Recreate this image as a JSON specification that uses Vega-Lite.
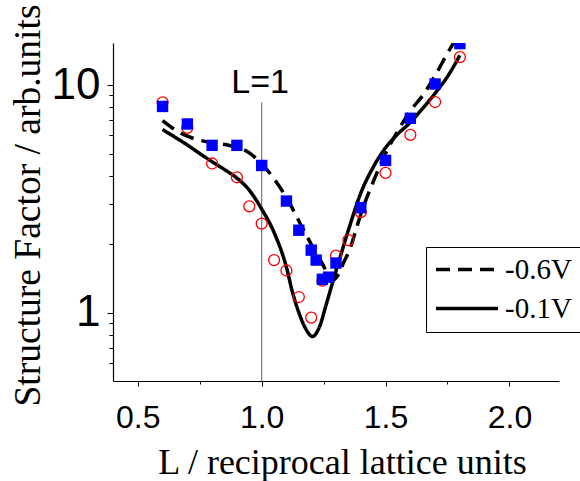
{
  "$schema": "https://vega.github.io/schema/vega-lite/v6.json",
  "width": 446,
  "height": 338,
  "autosize": {"type": "none"},
  "padding": {"left": 113, "top": 43, "right": 21, "bottom": 100},
  "background": "white",
  "config": {
    "view": {"stroke": null},
    "axis": {
      "grid": false,
      "domainColor": "black",
      "domainWidth": 1.2,
      "tickColor": "black",
      "tickWidth": 1,
      "labelColor": "black",
      "titleColor": "black",
      "labelFlush": false,
      "labelOverlap": false,
      "labelFont": "Liberation Sans",
      "titleFont": "Liberation Serif",
      "titleFontWeight": "normal"
    }
  },
  "datasets": {
    "curves": [
      {"series": "-0.6V", "L": 0.60, "SF": 6.97},
      {"series": "-0.6V", "L": 0.66, "SF": 6.26},
      {"series": "-0.6V", "L": 0.72, "SF": 5.85},
      {"series": "-0.6V", "L": 0.80, "SF": 5.57},
      {"series": "-0.6V", "L": 0.87, "SF": 5.42},
      {"series": "-0.6V", "L": 0.94, "SF": 5.11},
      {"series": "-0.6V", "L": 0.99, "SF": 4.62},
      {"series": "-0.6V", "L": 1.05, "SF": 3.87},
      {"series": "-0.6V", "L": 1.10, "SF": 3.2},
      {"series": "-0.6V", "L": 1.16, "SF": 2.41},
      {"series": "-0.6V", "L": 1.22, "SF": 1.82},
      {"series": "-0.6V", "L": 1.25, "SF": 1.6},
      {"series": "-0.6V", "L": 1.27, "SF": 1.44},
      {"series": "-0.6V", "L": 1.29, "SF": 1.39},
      {"series": "-0.6V", "L": 1.31, "SF": 1.47},
      {"series": "-0.6V", "L": 1.33, "SF": 1.65},
      {"series": "-0.6V", "L": 1.36, "SF": 1.95},
      {"series": "-0.6V", "L": 1.38, "SF": 2.3},
      {"series": "-0.6V", "L": 1.40, "SF": 2.7},
      {"series": "-0.6V", "L": 1.45, "SF": 3.75},
      {"series": "-0.6V", "L": 1.50, "SF": 5.0},
      {"series": "-0.6V", "L": 1.55, "SF": 6.3},
      {"series": "-0.6V", "L": 1.60, "SF": 7.7},
      {"series": "-0.6V", "L": 1.65, "SF": 9.0},
      {"series": "-0.6V", "L": 1.70, "SF": 11.0},
      {"series": "-0.6V", "L": 1.75, "SF": 13.8},
      {"series": "-0.6V", "L": 1.80, "SF": 17.0},
      {"series": "-0.1V", "L": 0.60, "SF": 6.37},
      {"series": "-0.1V", "L": 0.65, "SF": 5.9},
      {"series": "-0.1V", "L": 0.70, "SF": 5.45},
      {"series": "-0.1V", "L": 0.75, "SF": 5.0},
      {"series": "-0.1V", "L": 0.80, "SF": 4.6},
      {"series": "-0.1V", "L": 0.85, "SF": 4.25},
      {"series": "-0.1V", "L": 0.90, "SF": 3.9},
      {"series": "-0.1V", "L": 0.95, "SF": 3.45},
      {"series": "-0.1V", "L": 1.00, "SF": 2.85},
      {"series": "-0.1V", "L": 1.05, "SF": 2.25},
      {"series": "-0.1V", "L": 1.10, "SF": 1.58},
      {"series": "-0.1V", "L": 1.125, "SF": 1.22},
      {"series": "-0.1V", "L": 1.15, "SF": 1.0},
      {"series": "-0.1V", "L": 1.175, "SF": 0.86},
      {"series": "-0.1V", "L": 1.205, "SF": 0.785},
      {"series": "-0.1V", "L": 1.235, "SF": 0.875},
      {"series": "-0.1V", "L": 1.26, "SF": 1.08},
      {"series": "-0.1V", "L": 1.29, "SF": 1.4},
      {"series": "-0.1V", "L": 1.32, "SF": 1.8},
      {"series": "-0.1V", "L": 1.35, "SF": 2.3},
      {"series": "-0.1V", "L": 1.40, "SF": 3.35},
      {"series": "-0.1V", "L": 1.45, "SF": 4.35},
      {"series": "-0.1V", "L": 1.50, "SF": 5.3},
      {"series": "-0.1V", "L": 1.55, "SF": 6.1},
      {"series": "-0.1V", "L": 1.60, "SF": 6.85},
      {"series": "-0.1V", "L": 1.65, "SF": 7.9},
      {"series": "-0.1V", "L": 1.70, "SF": 9.2},
      {"series": "-0.1V", "L": 1.75, "SF": 10.9},
      {"series": "-0.1V", "L": 1.80, "SF": 13.5}
    ],
    "squares": [
      {"series": "-0.6V", "L": 0.6, "SF": 8.05},
      {"series": "-0.6V", "L": 0.7, "SF": 6.74},
      {"series": "-0.6V", "L": 0.8, "SF": 5.43},
      {"series": "-0.6V", "L": 0.9, "SF": 5.43},
      {"series": "-0.6V", "L": 1.0, "SF": 4.43},
      {"series": "-0.6V", "L": 1.1, "SF": 3.09},
      {"series": "-0.6V", "L": 1.15, "SF": 2.3},
      {"series": "-0.6V", "L": 1.2, "SF": 1.88},
      {"series": "-0.6V", "L": 1.22, "SF": 1.7},
      {"series": "-0.6V", "L": 1.245, "SF": 1.4},
      {"series": "-0.6V", "L": 1.27, "SF": 1.43},
      {"series": "-0.6V", "L": 1.3, "SF": 1.65},
      {"series": "-0.6V", "L": 1.4, "SF": 2.89},
      {"series": "-0.6V", "L": 1.5, "SF": 4.66},
      {"series": "-0.6V", "L": 1.6, "SF": 7.14},
      {"series": "-0.6V", "L": 1.7, "SF": 10.1},
      {"series": "-0.6V", "L": 1.8, "SF": 15.2}
    ],
    "circles": [
      {"series": "-0.1V", "L": 0.6, "SF": 8.39},
      {"series": "-0.1V", "L": 0.7, "SF": 6.48},
      {"series": "-0.1V", "L": 0.8, "SF": 4.52},
      {"series": "-0.1V", "L": 0.9, "SF": 3.93},
      {"series": "-0.1V", "L": 0.95, "SF": 2.93},
      {"series": "-0.1V", "L": 1.0, "SF": 2.46},
      {"series": "-0.1V", "L": 1.05, "SF": 1.7},
      {"series": "-0.1V", "L": 1.1, "SF": 1.53},
      {"series": "-0.1V", "L": 1.15, "SF": 1.17},
      {"series": "-0.1V", "L": 1.2, "SF": 0.95},
      {"series": "-0.1V", "L": 1.245, "SF": 1.38},
      {"series": "-0.1V", "L": 1.3, "SF": 1.78},
      {"series": "-0.1V", "L": 1.35, "SF": 2.08},
      {"series": "-0.1V", "L": 1.4, "SF": 2.76},
      {"series": "-0.1V", "L": 1.5, "SF": 4.11},
      {"series": "-0.1V", "L": 1.6, "SF": 6.04},
      {"series": "-0.1V", "L": 1.7, "SF": 8.42},
      {"series": "-0.1V", "L": 1.8, "SF": 13.27}
    ],
    "marker": [{"L": 1.0, "SF": 0.5, "SF2": 8.4, "label": "L=1", "labelSF": 9.25}]
  },
  "encoding": {
    "x": {
      "field": "L",
      "type": "quantitative",
      "scale": {"domain": [0.4, 2.2], "nice": false, "zero": false},
      "axis": {
        "values": [0.5, 0.75, 1, 1.25, 1.5, 1.75, 2],
        "labelExpr": "datum.value == 0.5 ? '0.5' : datum.value == 1 ? '1.0' : datum.value == 1.5 ? '1.5' : datum.value == 2 ? '2.0' : ''",
        "labelFontSize": 32,
        "labelBaseline": "alphabetic",
        "labelPadding": 41,
        "tickSize": {"condition": {"test": "datum.value == 0.5 || datum.value == 1 || datum.value == 1.5 || datum.value == 2", "value": 5}, "value": 3},
        "title": "L / reciprocal lattice units",
        "titleFontSize": 36,
        "titleBaseline": "alphabetic",
        "titleX": 229,
        "titleY": 92
      }
    },
    "y": {
      "field": "SF",
      "type": "quantitative",
      "scale": {"type": "log", "domain": [0.5, 15.3], "nice": false},
      "axis": {
        "values": [0.6, 0.7, 0.8, 0.9, 1, 2, 3, 4, 5, 6, 7, 8, 9, 10],
        "labelExpr": "datum.value == 1 ? '1' : datum.value == 10 ? '10' : ''",
        "labelFontSize": 44,
        "labelPadding": 7,
        "tickSize": {"condition": {"test": "datum.value == 1 || datum.value == 10", "value": 6}, "value": 4},
        "title": "Structure Factor / arb.units",
        "titleFontSize": 37.5,
        "titleBaseline": "alphabetic",
        "titleAngle": 270,
        "titleX": -74,
        "titleY": 162
      }
    }
  },
  "layer": [
    {
      "data": {"name": "marker"},
      "mark": {"type": "rule", "color": "#7a7a7a", "strokeWidth": 1.2},
      "encoding": {"y2": {"field": "SF2"}}
    },
    {
      "data": {"name": "curves"},
      "mark": {"type": "line", "interpolate": "monotone", "color": "black", "strokeWidth": 3.5, "clip": true},
      "encoding": {
        "detail": {"field": "series"},
        "strokeDash": {
          "field": "series",
          "type": "nominal",
          "scale": {"domain": ["-0.6V", "-0.1V"], "range": [[14, 8], [1, 0]]},
          "legend": {
            "orient": "none",
            "legendX": 313,
            "legendY": 204,
            "title": null,
            "symbolType": "stroke",
            "symbolSize": 3844,
            "symbolStrokeWidth": 3.5,
            "symbolStrokeColor": "black",
            "clipHeight": 29,
            "labelFont": "Liberation Serif",
            "labelFontSize": 29,
            "labelColor": "black",
            "labelOffset": 5,
            "labelLimit": 300,
            "padding": 8,
            "rowPadding": 9,
            "strokeColor": "black",
            "fillColor": "white"
          }
        }
      }
    },
    {
      "data": {"name": "circles"},
      "mark": {"type": "point", "shape": "circle", "filled": false, "color": "#ff0000", "strokeWidth": 1.3, "size": 120, "opacity": 1, "clip": true}
    },
    {
      "data": {"name": "squares"},
      "mark": {"type": "square", "color": "#0000ff", "size": 130, "opacity": 1, "clip": true}
    },
    {
      "data": {"name": "marker"},
      "mark": {"type": "text", "font": "Liberation Sans", "fontSize": 34, "color": "black", "align": "center", "baseline": "alphabetic", "dx": -1.5},
      "encoding": {"y": {"field": "labelSF", "type": "quantitative"}, "text": {"field": "label"}}
    }
  ]
}
